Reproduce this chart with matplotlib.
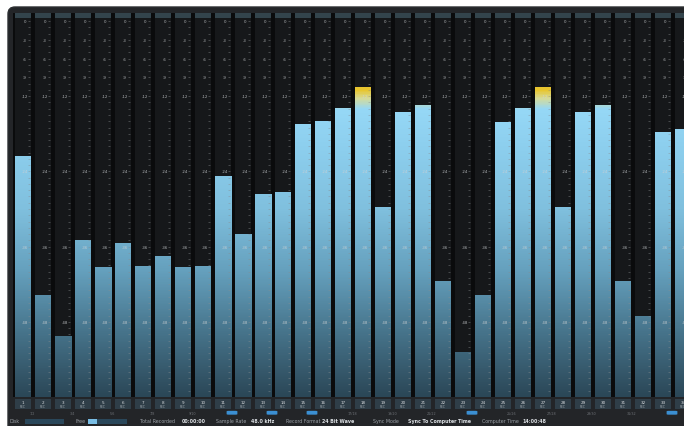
import numpy as np
import matplotlib
matplotlib.use("Agg")
import matplotlib.pyplot as plt
from matplotlib.patches import FancyBboxPatch, Rectangle
from matplotlib.colors import LinearSegmentedColormap
from matplotlib.transforms import IdentityTransform

# ---------------- data ----------------
channels = [str(i) for i in range(1, 35)]
levels_db = [-21.5, -43.7, -50.2, -34.9, -39.2, -35.4, -39.1, -37.5, -39.2, -39.1,
             -24.7, -34.0, -27.6, -27.3, -16.4, -15.9, -13.9, -10.5, -29.7, -14.5,
             -13.4, -41.5, -52.8, -43.7, -16.1, -13.9, -10.5, -29.7, -14.5, -13.4,
             -41.5, -47.0, -17.7, -17.2]
scale_labels = ["0", "-3", "-6", "-9", "-12", "-24", "-36", "-48"]
scale_db = [0, -3, -6, -9, -12, -24, -36, -48]
pair_labels = ["1/2", "3/4", "5/6", "7/8", "9/10", "11/12", "13/14", "15/16", "17/18",
               "19/20", "21/22", "23/24", "25/26", "27/28", "29/30", "31/32", "33/34"]
pair_active = [False, False, False, False, False, True, True, True, False,
               False, False, True, False, False, False, False, True]
status_items = [("Total Recorded", "00:00:00"), ("Sample Rate", "48.0 kHz"),
                ("Record Format", "24 Bit Wave"), ("Sync Mode", "Sync To Computer Time"),
                ("Computer Time", "14:00:48")]
free_fill = 0.22

W, H = 684, 427
fig = plt.figure(figsize=(W / 100, H / 100), dpi=100)
fig.patch.set_facecolor("white")

def fx(px):
    return px / W

def fy(py):
    return 1 - py / H

# window body with rounded corner
win = FancyBboxPatch((8 + 7, -30 + 7), W + 40, H - 8 + 30 - 14,
                     boxstyle="round,pad=7,rounding_size=7",
                     transform=IdentityTransform(), facecolor="#232528",
                     edgecolor="#2c2f32", linewidth=1.0, zorder=-5)
fig.add_artist(win)

# ---------------- meter axes ----------------
top_px, bot_px = 14, 398
left_px = 13
px_per_db = 6.29
y_top = (22 - top_px) / px_per_db
ax = fig.add_axes([fx(left_px), fy(bot_px), fx(W - left_px), (bot_px - top_px) / H])
ax.set_facecolor("#0a0b0c")
n = len(channels)
x = np.arange(n)
bw = 0.8
xlim = (-0.5, (W - 23) / 20)
for s in ax.spines.values():
    s.set_visible(False)
ax.set_xticks([])
ax.set_yticks([])

# unlit meter columns and header strip
ax.bar(x, np.full(n, 60.5), bottom=-60, width=bw, color="#16181a", zorder=1)
ax.bar(x, np.full(n, y_top - 0.45), bottom=0.45, width=bw, color="#33444c", zorder=1)

# lit bars with gradient
cmap = LinearSegmentedColormap.from_list(
    "meter",
    [(0.0, "#2b4757"), (10 / 61.3, "#46738a"), (20 / 61.3, "#65a0bd"),
     (30 / 61.3, "#80c0de"), (40 / 61.3, "#8dcfee"), (46 / 61.3, "#96d8f6"),
     (47.6 / 61.3, "#d6dc9a"), (49 / 61.3, "#e8c630"), (1.0, "#f0c020")])
grad = np.linspace(0, 1, 400).reshape(-1, 1)
bars = ax.bar(x, np.array(levels_db) + 60, bottom=-60, width=bw,
              color="none", zorder=2)
for b in bars:
    im = ax.imshow(grad, cmap=cmap, aspect="auto", origin="lower",
                   extent=(b.get_x(), b.get_x() + b.get_width(), -60, y_top),
                   zorder=2, interpolation="bilinear")
    im.set_clip_path(b)
ax.set_xlim(*xlim)
ax.set_ylim(-60, y_top)

# scale ticks and labels
minor = np.arange(0, -60, -1)
for i in x:
    ax.hlines(minor, i + 0.26, i + 0.36, colors="#8a8d90", linewidth=0.5,
              alpha=0.6, zorder=3)
    for lab, d in zip(scale_labels, scale_db):
        ax.text(i + 0.08, d, lab, fontsize=2.8, color="#cfd2d4", ha="center",
                va="center", zorder=4, alpha=0.85, clip_on=True)

# ---------------- channel label row ----------------
axl = fig.add_axes([fx(left_px), fy(410), fx(W - left_px), 10 / H])
axl.set_xlim(*xlim)
axl.set_ylim(0, 1)
axl.axis("off")
axl.bar(x, np.ones(n), width=bw, color="#2f3e48")
for i, c in zip(x, channels):
    axl.text(i, 0.68, c, fontsize=3.0, color="#d6dadd", ha="center", va="center",
             clip_on=True)
    axl.text(i, 0.28, "REC", fontsize=2.2, color="#a4acb3", ha="center", va="center",
             clip_on=True)

# ---------------- pair buttons row ----------------
axb = fig.add_axes([fx(left_px), fy(416.5), fx(W - left_px), 5.5 / H])
axb.set_xlim(*xlim)
axb.set_ylim(0, 1)
axb.axis("off")
px_ = np.arange(len(pair_labels)) * 2 + 0.45
for p, lab, act in zip(px_, pair_labels, pair_active):
    if act:
        axb.add_patch(FancyBboxPatch((p - 0.27, 0.15), 0.54, 0.7,
                                     boxstyle="round,pad=0,rounding_size=0.1",
                                     facecolor="#3b8fd2", edgecolor="none",
                                     clip_on=True))
    else:
        axb.text(p, 0.5, lab, fontsize=2.4, color="#6c7075", ha="center", va="center",
                 clip_on=True)

# ---------------- status bar ----------------
sy = fy(422)
fs = 3.4
fig.text(fx(10), sy, "Disk", fontsize=fs, color="#9aa0a6", va="center")
fig.add_artist(Rectangle((fx(25), fy(424.5)), fx(39), 5 / H, transform=fig.transFigure,
                         facecolor="#2a475a", edgecolor="none"))
fig.text(fx(75), sy, "Free", fontsize=fs, color="#9aa0a6", va="center")
fig.add_artist(Rectangle((fx(88), fy(424.5)), fx(39), 5 / H, transform=fig.transFigure,
                         facecolor="#2a475a", edgecolor="none"))
fig.add_artist(Rectangle((fx(88), fy(424.5)), fx(39 * free_fill), 5 / H,
                         transform=fig.transFigure, facecolor="#79bde4", edgecolor="none"))
pos = [(140, 182), (216, 251), (286, 322), (373, 408), (482, 522)]
for (lab, val), (p1, p2) in zip(status_items, pos):
    fig.text(fx(p1), sy, lab, fontsize=fs, color="#9aa0a6", va="center")
    fig.text(fx(p2), sy, val, fontsize=fs, color="#dde1e5", va="center",
             fontweight="bold")

fig.savefig("out.png", dpi=100, facecolor=fig.get_facecolor())
